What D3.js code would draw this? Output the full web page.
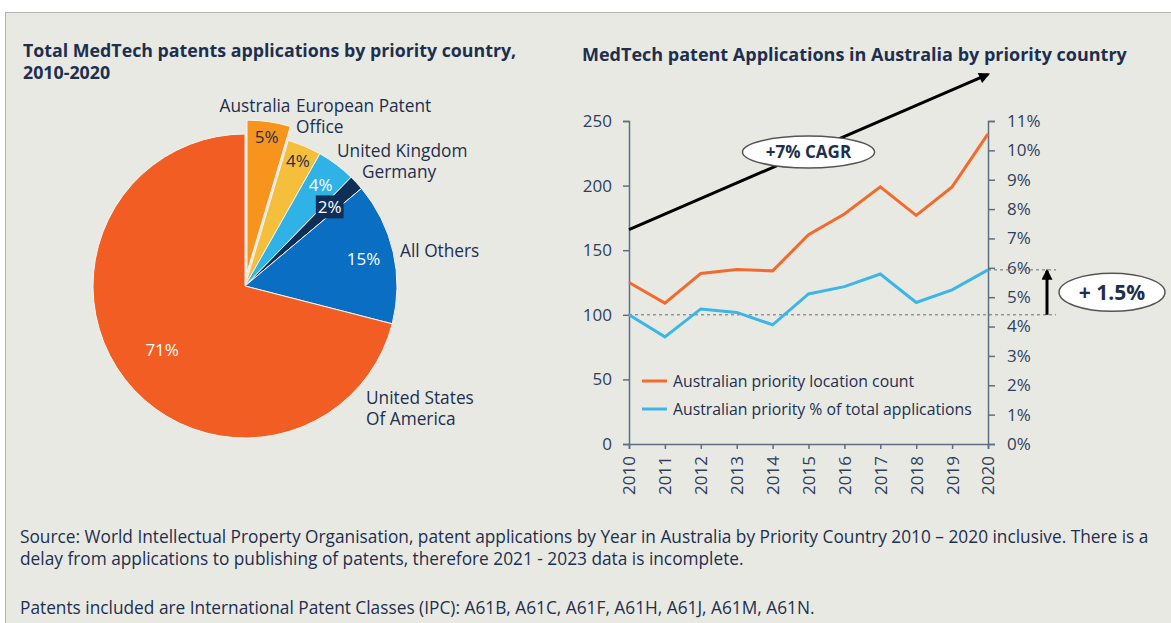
<!DOCTYPE html>
<html>
<head>
<meta charset="utf-8">
<script src="https://cdn.jsdelivr.net/npm/d3@7"></script>
<style>
  body { margin: 0; background: #fff; }
  text { font-family: "Open Sans", sans-serif; fill: #1d2f4e; }
</style>
</head>
<body>
<div id="chart"></div>
<script>
// Pie data: share of MedTech patent applications by priority country (%)
var countries   = ["Australia", "European Patent Office", "United Kingdom", "Germany", "All Others", "United States Of America"];
var shares      = [4.6, 3.6, 4.1, 1.6, 15.1, 71.0];
var sliceColors = ["#f7941d", "#f5bf3c", "#2fb2e6", "#0f2f59", "#0a6fc2", "#f15d22"];

// Line chart data
var years    = [2010, 2011, 2012, 2013, 2014, 2015, 2016, 2017, 2018, 2019, 2020];
var auCount  = [125, 109, 132, 135, 134, 162, 178, 199, 177, 199, 240];
var auPct    = [4.40, 3.65, 4.60, 4.48, 4.06, 5.11, 5.36, 5.79, 4.82, 5.25, 5.93];
var leftTicks  = [0, 50, 100, 150, 200, 250];
var rightTicks = [0, 1, 2, 3, 4, 5, 6, 7, 8, 9, 10, 11];
var seriesNames = ["Australian priority location count", "Australian priority % of total applications"];
var cagrLine = [[2010, 166], [2020, 286]];

var footer = [
  "Source: World Intellectual Property Organisation, patent applications by Year in Australia by Priority Country 2010 \u2013 2020 inclusive. There is a",
  "delay from applications to publishing of patents, therefore 2021 - 2023 data is incomplete.",
  "Patents included are International Patent Classes (IPC): A61B, A61C, A61F, A61H, A61J, A61M, A61N."
];

var width = 1171, height = 623;
var navy = "#1d2f4e", axisColor = "#5d6f82";

var svg = d3.select("#chart").append("svg")
    .attr("width", width)
    .attr("height", height);

// panel background
svg.append("rect")
    .attr("x", 5.5).attr("y", 12.5)
    .attr("width", width).attr("height", height)
    .attr("fill", "#e9e9e4")
    .attr("stroke", "#b3b3b3");

// ---------- titles ----------
svg.append("text").attr("x", 23).attr("y", 57)
    .attr("font-size", 17.8).attr("font-weight", "bold")
    .text("Total MedTech patents applications by priority country,");
svg.append("text").attr("x", 23).attr("y", 79)
    .attr("font-size", 17.8).attr("font-weight", "bold")
    .text("2010-2020");
svg.append("text").attr("x", 582).attr("y", 61)
    .attr("font-size", 18).attr("font-weight", "bold")
    .text("MedTech patent Applications in Australia by priority country");

// ---------- pie ----------
var radius = 152, explode = 14;
var pie = d3.pie().sort(null).value(function(d){ return d; });
var arcs = pie(shares);
var arc = d3.arc().innerRadius(0).outerRadius(radius);

function mid(d){ return (d.startAngle + d.endAngle) / 2; }
function polar(a, r){ return [Math.sin(a) * r, -Math.cos(a) * r]; }
function shift(d, i){ return i === 0 ? polar(mid(d), explode) : [0, 0]; }

var pieG = svg.append("g").attr("transform", "translate(245,286)");

pieG.selectAll("path.slice")
    .data(arcs)
    .enter()
    .append("path")
      .attr("class", "slice")
      .attr("d", arc)
      .attr("fill", function(d, i){ return sliceColors[i]; })
      .attr("stroke", "#f4f4f0")
      .attr("stroke-width", 1)
      .attr("transform", function(d, i){ var s = shift(d, i); return "translate(" + s + ")"; });

// inside percentage labels
var labelRadius = [0.9, 0.89, 0.83, 0.76, 0.8, 0.69];
var labelFill   = [navy, navy, "#fff", "#fff", "#fff", "#fff"];
var fmt = d3.format(".0f");

var inner = pieG.selectAll("g.plabel")
    .data(arcs)
    .enter()
    .append("g")
      .attr("class", "plabel")
      .attr("transform", function(d, i){
        var p = polar(mid(d), radius * labelRadius[i]), s = shift(d, i);
        return "translate(" + (p[0] + s[0]) + "," + (p[1] + s[1]) + ")";
      });

inner.append("text")
    .attr("text-anchor", "middle")
    .attr("dy", "0.35em")
    .attr("font-size", 17)
    .style("fill", function(d, i){ return labelFill[i]; })
    .text(function(d){ return fmt(d.data) + "%"; });

// dark box behind the small Germany label
inner.filter(function(d, i){ return i === 3; }).each(function(){
  var g = d3.select(this), bb = g.select("text").node().getBBox();
  g.insert("rect", "text")
    .attr("x", bb.x - 2).attr("y", bb.y)
    .attr("width", bb.width + 4).attr("height", bb.height)
    .attr("fill", sliceColors[3]);
});

// outside country labels (offsets from pie centre)
var outside = [
  {lines: ["Australia"], dx: 10, dy: -174, anchor: "middle"},
  {lines: ["European Patent", "Office"], dx: 51, dy: -174, anchor: "start"},
  {lines: ["United Kingdom"], dx: 92, dy: -129, anchor: "start"},
  {lines: ["Germany"], dx: 117, dy: -108, anchor: "start"},
  {lines: ["All Others"], dx: 155, dy: -29, anchor: "start"},
  {lines: ["United States", "Of America"], dx: 121, dy: 118, anchor: "start"}
];

outside.forEach(function(o){
  var t = pieG.append("text")
      .attr("x", o.dx).attr("y", o.dy)
      .attr("text-anchor", o.anchor)
      .attr("font-size", 17.3);
  o.lines.forEach(function(line, j){
    t.append("tspan").attr("x", o.dx).attr("dy", j ? 21 : 0).text(line);
  });
});

// ---------- line chart ----------
var x  = d3.scaleLinear().domain([2010, 2020]).range([629, 988]);
var yL = d3.scaleLinear().domain([0, 250]).range([444, 121]);
var yR = d3.scaleLinear().domain([0, 11]).range([444, 121]);

function styleAxis(g){
  g.select(".domain").attr("stroke", axisColor).attr("stroke-width", 1.5);
  g.selectAll(".tick line").attr("stroke", axisColor).attr("stroke-width", 1.5);
  g.selectAll(".tick text").attr("font-size", 17).attr("font-family", "Open Sans, sans-serif").style("fill", "#2e3f5c");
}

svg.append("g")
    .attr("transform", "translate(629,0)")
    .call(d3.axisLeft(yL).tickValues(leftTicks).tickSize(6).tickPadding(11))
    .call(styleAxis);

svg.append("g")
    .attr("transform", "translate(988,0)")
    .call(d3.axisRight(yR).tickValues(rightTicks).tickSize(7).tickPadding(12)
            .tickFormat(function(d){ return d + "%"; }))
    .call(styleAxis);

svg.append("g")
    .attr("transform", "translate(0,444)")
    .call(d3.axisBottom(x).tickValues(years).tickFormat(d3.format("d")).tickSize(5))
    .call(styleAxis)
    .selectAll(".tick text")
      .attr("transform", "rotate(-90)")
      .attr("text-anchor", "end")
      .attr("x", -12).attr("y", 0).attr("dy", "0.35em");

// reference dashed lines for +1.5% annotation
var first = auPct[0], last = auPct[auPct.length - 1];
svg.append("line")
    .attr("x1", x(2010)).attr("x2", x(2020) + 68)
    .attr("y1", yR(first)).attr("y2", yR(first))
    .attr("stroke", "#6b6b6b").attr("stroke-dasharray", "3,3");
svg.append("line")
    .attr("x1", x(2020)).attr("x2", x(2020) + 68)
    .attr("y1", yR(last)).attr("y2", yR(last))
    .attr("stroke", "#6b6b6b").attr("stroke-dasharray", "3,3");

// series lines
var countLine = d3.line()
    .x(function(d, i){ return x(years[i]); })
    .y(function(d){ return yL(d); });
var pctLine = d3.line()
    .x(function(d, i){ return x(years[i]); })
    .y(function(d){ return yR(d); });

svg.append("path").datum(auCount)
    .attr("d", countLine)
    .attr("fill", "none").attr("stroke", "#f26a2c").attr("stroke-width", 3);
svg.append("path").datum(auPct)
    .attr("d", pctLine)
    .attr("fill", "none").attr("stroke", "#3bb6e6").attr("stroke-width", 3);

// legend
var legend = svg.append("g");
[["#f26a2c", 381], ["#3bb6e6", 409]].forEach(function(l, i){
  legend.append("line")
      .attr("x1", 642).attr("x2", 667).attr("y1", l[1]).attr("y2", l[1])
      .attr("stroke", l[0]).attr("stroke-width", 3);
  legend.append("text")
      .attr("x", 673).attr("y", l[1]).attr("dy", "0.35em")
      .attr("font-size", 15.8)
      .text(seriesNames[i]);
});

// arrow marker
svg.append("defs").append("marker")
    .attr("id", "head")
    .attr("markerUnits", "userSpaceOnUse")
    .attr("viewBox", "0 0 10 10")
    .attr("refX", 8).attr("refY", 5)
    .attr("markerWidth", 12).attr("markerHeight", 11)
    .attr("orient", "auto")
  .append("path")
    .attr("d", "M0,0 L10,5 L0,10 Z")
    .attr("fill", "#000");

// CAGR trend arrow
var cagr = Math.pow(auCount[auCount.length - 1] / auCount[0], 1 / (years.length - 1)) - 1;
svg.append("line")
    .attr("x1", x(cagrLine[0][0])).attr("y1", yL(cagrLine[0][1]))
    .attr("x2", x(cagrLine[1][0])).attr("y2", yL(cagrLine[1][1]))
    .attr("stroke", "#000").attr("stroke-width", 3)
    .attr("marker-end", "url(#head)");

var cx = x((cagrLine[0][0] + cagrLine[1][0]) / 2),
    cy = yL((cagrLine[0][1] + cagrLine[1][1]) / 2);
svg.append("ellipse")
    .attr("cx", cx).attr("cy", cy).attr("rx", 66).attr("ry", 16)
    .attr("fill", "#fff").attr("stroke", "#555").attr("stroke-width", 1.5);
svg.append("text")
    .attr("x", cx).attr("y", cy).attr("dy", "0.35em")
    .attr("text-anchor", "middle")
    .attr("font-size", 17).attr("font-weight", "bold")
    .text("+" + d3.format(".0f")(cagr * 100) + "% CAGR");

// +1.5% arrow and bubble
var ax = x(2020) + 59;
svg.append("line")
    .attr("x1", ax).attr("x2", ax)
    .attr("y1", yR(first)).attr("y2", yR(last) + 1)
    .attr("stroke", "#000").attr("stroke-width", 3)
    .attr("marker-end", "url(#head)");

var bx = x(2020) + 124, by = (yR(first) + yR(last)) / 2;
svg.append("ellipse")
    .attr("cx", bx).attr("cy", by).attr("rx", 53).attr("ry", 19)
    .attr("fill", "#fff").attr("stroke", "#555").attr("stroke-width", 1.5);
svg.append("text")
    .attr("x", bx).attr("y", by).attr("dy", "0.35em")
    .attr("text-anchor", "middle")
    .attr("font-size", 21).attr("font-weight", "bold")
    .text("+ " + d3.format(".1f")(last - first) + "%");

// ---------- footer ----------
[543, 565, 614].forEach(function(yy, i){
  svg.append("text")
      .attr("x", 20).attr("y", yy)
      .attr("font-size", 17.3)
      .text(footer[i]);
});
</script>
</body>
</html>
